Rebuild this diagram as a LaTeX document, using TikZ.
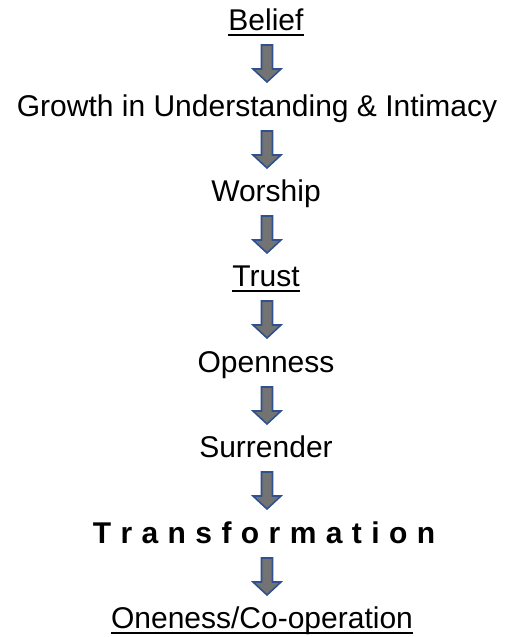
\documentclass[tikz,border=0pt]{standalone}
\usepackage{fontspec}
\setmainfont{Liberation Sans}
\usetikzlibrary{calc}
\definecolor{arrowfill}{RGB}{115,115,115}
\definecolor{arrowline}{RGB}{47,82,143}
\tikzset{
  lbl/.style={anchor=base, inner sep=0pt, font=\fontsize{30}{36}\selectfont},
  blk/.style={fill=arrowfill, draw=arrowline, line width=1.6pt, line join=miter},
  ul/.style={draw=black, line width=2pt}
}
\newcommand\blkarrow[1]{%
  \draw[blk] ($(ax |- #1.base)+(0,-15)$) ++(-5.5,0) -- ++(11,0) -- ++(0,-24)
    -- ++(8.5,0) -- ++(-14,-13) -- ++(-14,13) -- ++(8.5,0) -- cycle;}
\newcommand\ulnode[1]{%
  \draw[ul] ($(#1.base west)+(0,-5)$) -- ($(#1.base east)+(0,-5)$);}
\begin{document}
\begin{tikzpicture}[x=1pt,y=1pt]
\useasboundingbox (0,0) rectangle (506,-637);
\coordinate (ax) at (267,0);
\node[lbl] (belief) at (266,-30) {Belief};
\node[lbl] (growth) at (257,-116) {Growth in Understanding \& Intimacy};
\node[lbl] (worship) at (266,-201) {Worship};
\node[lbl] (trust) at (266,-286) {Trust};
\node[lbl] (open) at (266,-372) {Openness};
\node[lbl] (surr) at (266,-457) {Surrender};
\node[lbl, font=\fontsize{30}{36}\selectfont\bfseries] (trans) at (264,-543) {\spaceskip=9.4pt T r a n s f o r m a t i o n};
\node[lbl] (one) at (262,-628) {Oneness/Co-operation};
\ulnode{belief}
\ulnode{trust}
\ulnode{one}
\blkarrow{belief}
\blkarrow{growth}
\blkarrow{worship}
\blkarrow{trust}
\blkarrow{open}
\blkarrow{surr}
\blkarrow{trans}
\end{tikzpicture}
\end{document}
